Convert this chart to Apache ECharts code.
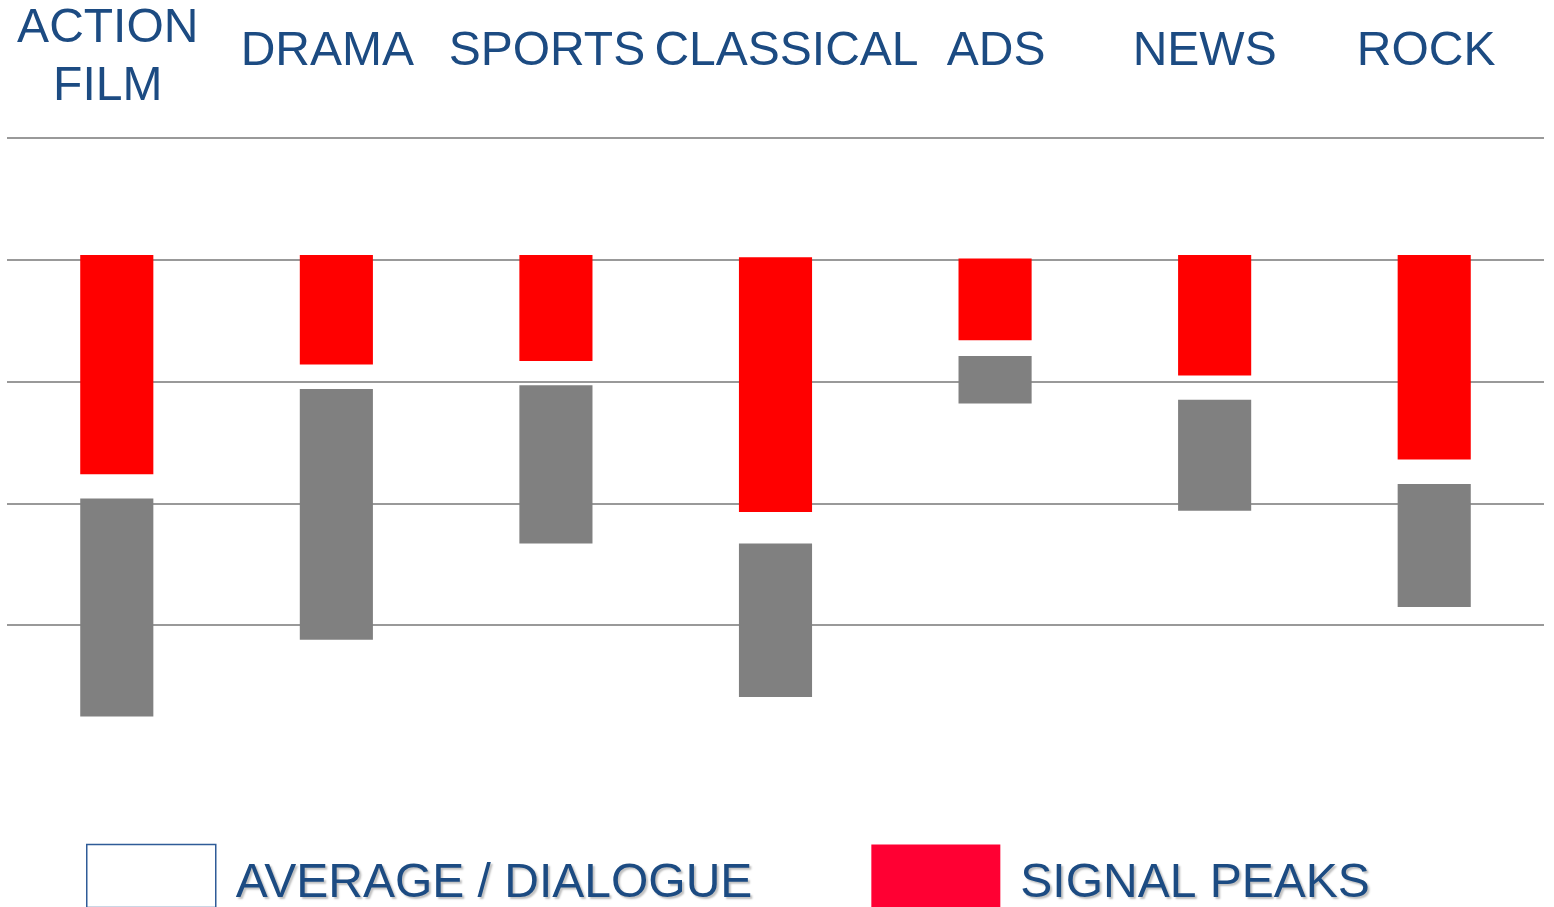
<!DOCTYPE html>
<html>
<head>
<meta charset="utf-8">
<style>
  html, body { margin: 0; padding: 0; background: #fff; }
  #chart { width: 1554px; height: 907px; }
</style>
<script src="https://cdn.jsdelivr.net/npm/echarts@6/dist/echarts.min.js"></script>
</head>
<body>
<div id="chart"></div>
<script>
// categories along the top
var categories = ['ACTION\nFILM', 'DRAMA', 'SPORTS', 'CLASSICAL', 'ADS', 'NEWS', 'ROCK']
// level ranges (gridlines are 10 apart, lowest line = 0)
var peakTop = [30.4, 30.4, 30.4, 30.2, 30.1, 30.4, 30.4]
var peakBottom = [12.4, 21.4, 21.7, 9.3, 23.4, 20.5, 13.6]
var avgTop = [10.4, 19.4, 19.7, 6.7, 22.1, 18.5, 11.6]
var avgBottom = [-7.5, -1.2, 6.7, -5.9, 18.2, 9.4, 1.5]
var gridLines = [0, 10, 20, 30, 40]

var blue = '#1c4b82'
var font = "'Liberation Sans', Arial, sans-serif"

function toRanges(lo, hi) {
	return lo.map(function (v, i) { return [i, v, hi[i]] })
}

// floating bar from value(1) to value(2)
function renderRange(params, api) {
	var lo = api.coord([api.value(0), api.value(1)])
	var hi = api.coord([api.value(0), api.value(2)])
	var w = api.size([1, 0])[0] * 0.333
	return {
		type: 'rect',
		shape: { x: lo[0] - w / 2, y: hi[1], width: w, height: lo[1] - hi[1] },
		style: api.style()
	}
}

// nudge labels like in the picture; one-line labels sit mid-height of the two-line one
var labelShift = [-9, -9, -9, 11, 1, -10, -8]
var xData = categories.map(function (c, i) {
	var s = labelShift[i]
	var bottom = c.indexOf('\n') >= 0 ? 0 : 35
	return {
		value: c,
		textStyle: { padding: s < 0 ? [0, -2 * s, bottom, 0] : [0, 0, bottom, 2 * s] }
	}
})

var shadow = {
	textShadowColor: 'rgba(0,0,0,0.25)',
	textShadowOffsetX: 2,
	textShadowOffsetY: 2,
	textShadowBlur: 2
}

var chart = echarts.init(document.getElementById('chart'))
chart.setOption({
	animation: false,
	grid: { left: 7, right: 10, top: 138, bottom: 160, outerBoundsMode: 'none', containLabel: false },
	legend: {
		left: 86,
		top: 843,
		padding: 0,
		itemWidth: 129,
		itemHeight: 63,
		itemGap: 119,
		selectedMode: false,
		// empty first line pushes the name a bit below the box middle
		formatter: function (name) { return '{s| }\n{t|' + name + '}' },
		textStyle: {
			color: blue,
			fontFamily: font,
			fontSize: 48,
			padding: [0, 0, 0, 15],
			rich: {
				s: { fontSize: 10, lineHeight: 16 },
				t: Object.assign({ color: blue, fontFamily: font, fontSize: 48, lineHeight: 56 }, shadow)
			}
		},
		data: [
			{ name: 'AVERAGE / DIALOGUE', icon: 'rect', itemStyle: { color: '#fff', borderColor: '#2f5c98', borderWidth: 1.5 } },
			{ name: 'SIGNAL PEAKS', icon: 'rect', itemStyle: { color: '#ff0033', borderWidth: 0 } }
		]
	},
	xAxis: {
		type: 'category',
		position: 'top',
		data: xData,
		axisLine: { show: false },
		axisTick: { show: false },
		axisLabel: {
			interval: 0,
			margin: 22,
			color: blue,
			fontFamily: font,
			fontSize: 48,
			lineHeight: 58
		}
	},
	yAxis: {
		type: 'value',
		min: -10,
		max: 40,
		interval: 10,
		axisLine: { show: false },
		axisTick: { show: false },
		axisLabel: { show: false },
		splitLine: { show: false }
	},
	series: [
		{
			name: 'AVERAGE / DIALOGUE',
			type: 'custom',
			renderItem: renderRange,
			encode: { x: 0, y: [1, 2] },
			itemStyle: { color: '#808080' },
			data: toRanges(avgBottom, avgTop),
			z: 3,
			markLine: {
				silent: true,
				symbol: 'none',
				label: { show: false },
				lineStyle: { color: '#777', width: 1.5, type: 'solid' },
				data: gridLines.map(function (v) { return { yAxis: v } }),
				z: 1
			}
		},
		{
			name: 'SIGNAL PEAKS',
			type: 'custom',
			renderItem: renderRange,
			encode: { x: 0, y: [1, 2] },
			itemStyle: { color: '#ff0000' },
			data: toRanges(peakBottom, peakTop),
			z: 3
		}
	]
})
</script>
</body>
</html>
